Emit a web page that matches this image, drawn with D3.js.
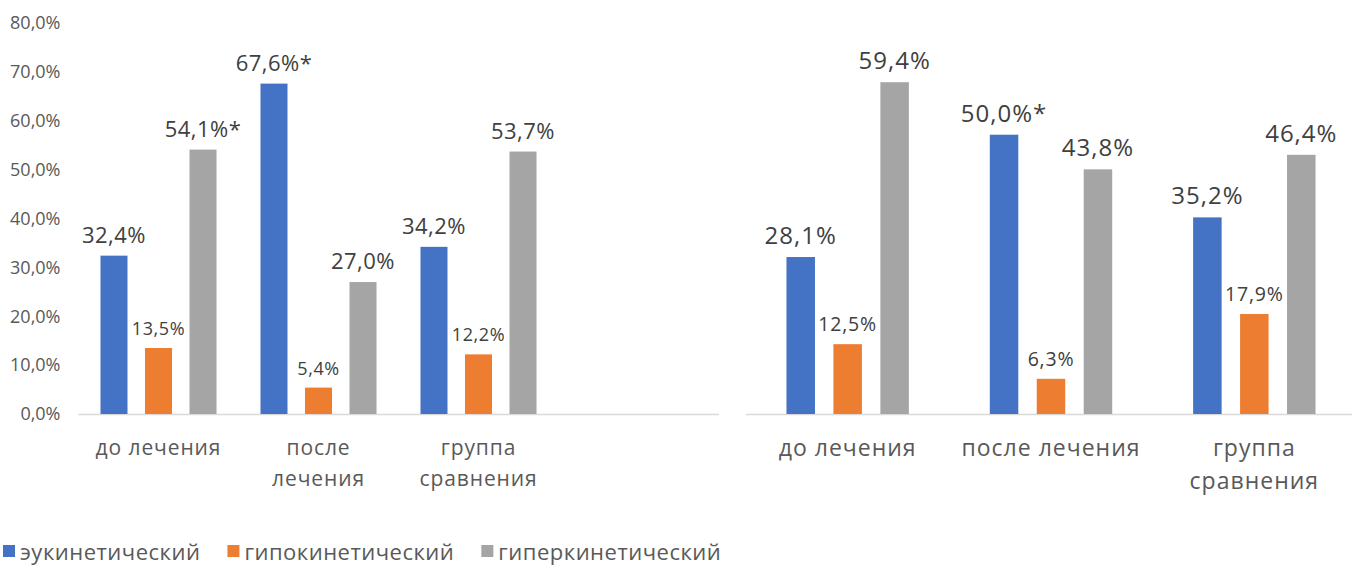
<!DOCTYPE html>
<html lang="ru">
<head>
<meta charset="utf-8">
<title>Типы гемодинамики</title>
<script src="https://cdn.jsdelivr.net/npm/d3@7"></script>
<style>
  body { margin: 0; background: #fff; }
  text { font-family: "Open Sans", sans-serif; }
</style>
</head>
<body>
<script>
// series
var seriesNames = ["эукинетический", "гипокинетический", "гиперкинетический"];
var colors = ["#4472C4", "#ED7D31", "#A5A5A5"];

// left chart
var leftCats = ["до лечения", "после лечения", "группа сравнения", ""];
var leftTickLines = [["до лечения"], ["после", "лечения"], ["группа", "сравнения"], []];
var leftEu = [32.4, 67.6, 34.2];
var leftHypo = [13.5, 5.4, 12.2];
var leftHyper = [54.1, 27.0, 53.7];
var leftEuStar = [false, true, false];
var leftHyperStar = [true, false, false];
var yTicks = [0, 10, 20, 30, 40, 50, 60, 70, 80];

// right chart
var rightCats = ["до лечения", "после лечения", "группа сравнения"];
var rightTickLines = [["до лечения"], ["после лечения"], ["группа", "сравнения"]];
var rightEu = [28.1, 50.0, 35.2];
var rightHypo = [12.5, 6.3, 17.9];
var rightHyper = [59.4, 43.8, 46.4];
var rightEuStar = [false, true, false];

var w = 1352, h = 565;
var svg = d3.select("body").append("svg").attr("width", w).attr("height", h);

var pct = function(v) { return d3.format(".1f")(v).replace(".", ",") + "%"; };

function drawChart(o) {
  var g = svg.append("g");
  var x0 = d3.scaleBand().domain(o.cats).range(o.xr).padding(0);
  var x1 = d3.scaleBand().domain([0, 1, 2]).range([0, x0.bandwidth()])
    .paddingInner(0.393).paddingOuter(o.outer);
  var y = d3.scaleLinear().domain([0, o.ymax]).range([414, 23]);

  // baseline
  g.append("line")
    .attr("x1", o.xr[0]).attr("x2", o.lineEnd)
    .attr("y1", y(0) + 0.5).attr("y2", y(0) + 0.5)
    .attr("stroke", "#D9D9D9").attr("stroke-width", 1.5);

  if (o.axis) {
    var ax = g.append("g").attr("transform", "translate(" + (o.xr[0] - 18) + ",0)")
      .call(d3.axisLeft(y).tickValues(yTicks).tickSize(0).tickPadding(0)
        .tickFormat(function(d) { return pct(d); }));
    ax.select(".domain").remove();
    ax.selectAll("text").attr("font-size", "18px").attr("fill", "#595959")
      .attr("font-family", '"Open Sans", sans-serif');
  }

  var series = [o.eu, o.hypo, o.hyper];
  var stars = [o.euStar, null, o.hyperStar];
  series.forEach(function(vals, si) {
    var rows = vals.map(function(v, i) {
      return { cat: o.cats[i], v: v, star: stars[si] ? stars[si][i] : false };
    });
    var sg = g.append("g").attr("fill", colors[si]);
    sg.selectAll("rect").data(rows).enter().append("rect")
      .attr("x", function(d) { return x0(d.cat) + x1(si); })
      .attr("y", function(d) { return y(d.v); })
      .attr("width", x1.bandwidth())
      .attr("height", function(d) { return y(0) - y(d.v); });
    g.append("g").selectAll("text").data(rows).enter().append("text")
      .attr("x", function(d) { return x0(d.cat) + x1(si) + x1.bandwidth() / 2; })
      .attr("y", function(d) { return y(d.v) - 13; })
      .attr("text-anchor", "middle")
      .attr("font-size", si === 1 ? o.smallFont : o.bigFont)
      .attr("letter-spacing", si === 1 ? o.smallLs : o.bigLs)
      .attr("fill", "#404040")
      .text(function(d) { return pct(d.v) + (d.star ? "*" : ""); });
  });

  // category labels
  o.cats.forEach(function(c, i) {
    var t = g.append("text")
      .attr("x", x0(c) + x0.bandwidth() / 2)
      .attr("y", o.labelY)
      .attr("text-anchor", "middle")
      .attr("font-size", o.catFont)
      .attr("letter-spacing", o.catLs)
      .attr("fill", "#595959");
    o.lines[i].forEach(function(line, li) {
      t.append("tspan").attr("x", x0(c) + x0.bandwidth() / 2)
        .attr("dy", li === 0 ? 0 : o.lineH).text(line);
    });
  });
}

drawChart({
  cats: leftCats, lines: leftTickLines, xr: [78.5, 718.5], lineEnd: 719, outer: 0.494,
  ymax: 80, axis: true, eu: leftEu, hypo: leftHypo, hyper: leftHyper,
  euStar: leftEuStar, hyperStar: leftHyperStar,
  bigFont: "22px", bigLs: "0.5px", smallFont: "18px", smallLs: "0.6px",
  catFont: "21px", catLs: "0.9px", labelY: 455, lineH: 31
});

drawChart({
  cats: rightCats, lines: rightTickLines, xr: [746, 1356], lineEnd: 1352, outer: 0.862,
  ymax: 70, axis: false, eu: rightEu, hypo: rightHypo, hyper: rightHyper,
  euStar: rightEuStar, hyperStar: null,
  bigFont: "24px", bigLs: "1px", smallFont: "19.5px", smallLs: "0.8px",
  catFont: "23px", catLs: "1px", labelY: 456, lineH: 33
});

// legend
var legend = svg.append("g").attr("transform", "translate(3,560)");
var lx = 0;
seriesNames.forEach(function(name, i) {
  var item = legend.append("g").attr("transform", "translate(" + lx + ",0)");
  item.append("rect").attr("x", 0).attr("y", -15).attr("width", 12).attr("height", 12)
    .attr("fill", colors[i]);
  var t = item.append("text").attr("x", 17).attr("y", 0)
    .attr("font-size", "22px").attr("letter-spacing", "0.5px")
    .attr("fill", "#595959").text(name);
  lx += 17 + t.node().getComputedTextLength() + 27;
});
</script>
</body>
</html>
